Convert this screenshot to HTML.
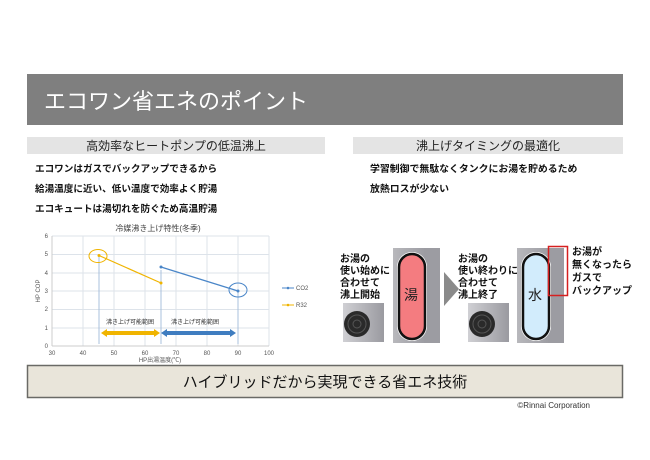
<!DOCTYPE html>
<html><head><meta charset="utf-8"><style>
body{margin:0;background:#fff;}
svg{display:block;font-family:"Liberation Sans","Noto Sans CJK JP",sans-serif;}
</style></head><body>
<svg width="650" height="460" viewBox="0 0 650 460" xmlns="http://www.w3.org/2000/svg">
<defs>
<linearGradient id="tk" x1="0" x2="1"><stop offset="0" stop-color="#b8b8bc"/><stop offset="0.5" stop-color="#a4a4aa"/><stop offset="1" stop-color="#8e8e94"/></linearGradient>
<linearGradient id="od" x1="0" x2="1"><stop offset="0" stop-color="#d0d0d4"/><stop offset="1" stop-color="#9a9aa0"/></linearGradient>
</defs>
<rect x="27" y="74" width="596" height="51" fill="#7f7f7f"/>
<text x="44" y="109" font-size="22" fill="#fff">エコワン省エネのポイント</text>

<rect x="27" y="137" width="298" height="17" fill="#e4e4e4"/>
<text x="176" y="150" font-size="12" fill="#222" text-anchor="middle">高効率なヒートポンプの低温沸上</text>
<rect x="353" y="137" width="270" height="17" fill="#e4e4e4"/>
<text x="488" y="150" font-size="12" fill="#222" text-anchor="middle">沸上げタイミングの最適化</text>

<g font-size="9.6" font-weight="bold" fill="#111">
<text x="35" y="172">エコワンはガスでバックアップできるから</text>
<text x="35" y="192">給湯温度に近い、低い温度で効率よく貯湯</text>
<text x="35" y="212">エコキュートは湯切れを防ぐため高温貯湯</text>
<text x="370" y="172" font-size="9.9">学習制御で無駄なくタンクにお湯を貯めるため</text>
<text x="370" y="192" font-size="9.9">放熱ロスが少ない</text>
</g>

<!-- chart -->
<text x="158" y="231" font-size="8" fill="#444" text-anchor="middle">冷媒沸き上げ特性(冬季)</text>
<g stroke="#dde3ea" stroke-width="1">
<line x1="52" y1="236" x2="269" y2="236"/><line x1="52" y1="254.5" x2="269" y2="254.5"/><line x1="52" y1="273" x2="269" y2="273"/><line x1="52" y1="291" x2="269" y2="291"/><line x1="52" y1="309.5" x2="269" y2="309.5"/><line x1="52" y1="328" x2="269" y2="328"/>
<line x1="83" y1="236" x2="83" y2="346"/><line x1="114" y1="236" x2="114" y2="346"/><line x1="145" y1="236" x2="145" y2="346"/><line x1="176" y1="236" x2="176" y2="346"/><line x1="207" y1="236" x2="207" y2="346"/><line x1="238" y1="236" x2="238" y2="346"/><line x1="269" y1="236" x2="269" y2="346"/>
</g>
<line x1="52" y1="236" x2="52" y2="346" stroke="#ccc"/>
<line x1="52" y1="346" x2="269" y2="346" stroke="#ccc"/>
<g font-size="6" fill="#555" text-anchor="end">
<text x="48" y="348">0</text><text x="48" y="330">1</text><text x="48" y="311">2</text><text x="48" y="293">3</text><text x="48" y="275">4</text><text x="48" y="256">5</text><text x="48" y="238">6</text>
</g>
<g font-size="6" fill="#555" text-anchor="middle">
<text x="52" y="355">30</text><text x="83" y="355">40</text><text x="114" y="355">50</text><text x="145" y="355">60</text><text x="176" y="355">70</text><text x="207" y="355">80</text><text x="238" y="355">90</text><text x="269" y="355">100</text>
</g>
<text x="160" y="362" font-size="6" fill="#555" text-anchor="middle">HP出湯温度(℃)</text>
<text x="40" y="291" font-size="6" fill="#555" text-anchor="middle" transform="rotate(-90 40 291)">HP COP</text>
<g stroke="#a8c0dc" stroke-width="1"><line x1="99" y1="255" x2="99" y2="344"/><line x1="161" y1="270" x2="161" y2="344"/><line x1="238" y1="291" x2="238" y2="344"/></g>
<line x1="99" y1="255.5" x2="161" y2="283" stroke="#f0b400" stroke-width="1.2"/>
<circle cx="99" cy="255.5" r="1.5" fill="#f0b400"/><circle cx="161" cy="283" r="1.5" fill="#f0b400"/>
<ellipse cx="98" cy="256" rx="9" ry="6.5" fill="none" stroke="#f0b400"/>
<line x1="161" y1="267" x2="238" y2="291" stroke="#4a86c8" stroke-width="1.2"/>
<circle cx="161" cy="267" r="1.5" fill="#4a86c8"/><circle cx="238" cy="291" r="1.5" fill="#4a86c8"/>
<ellipse cx="238" cy="290" rx="9" ry="7" fill="none" stroke="#4a86c8"/>
<text x="130" y="324" font-size="6" fill="#333" text-anchor="middle">沸き上げ可能範囲</text>
<text x="195" y="324" font-size="6" fill="#333" text-anchor="middle">沸き上げ可能範囲</text>
<polygon points="101,333 107,329 107,331 154,331 154,329 160,333 154,337 154,335 107,335 107,337" fill="#f0b400"/>
<polygon points="161,333 167,329 167,331 230,331 230,329 236,333 230,337 230,335 167,335 167,337" fill="#3f7dc0"/>
<line x1="282" y1="288" x2="294" y2="288" stroke="#4a86c8"/><circle cx="288" cy="288" r="1.3" fill="#4a86c8"/>
<text x="296" y="290" font-size="6" fill="#555">CO2</text>
<line x1="282" y1="305" x2="294" y2="305" stroke="#f0b400"/><circle cx="288" cy="305" r="1.3" fill="#f0b400"/>
<text x="296" y="307" font-size="6" fill="#555">R32</text>

<!-- right diagram -->
<g font-size="10" font-weight="bold" fill="#111">
<text x="340" y="262">お湯の</text><text x="340" y="274">使い始めに</text><text x="340" y="286">合わせて</text><text x="340" y="298">沸上開始</text>
<text x="458" y="262">お湯の</text><text x="458" y="274">使い終わりに</text><text x="458" y="286">合わせて</text><text x="458" y="298">沸上終了</text>
<text x="572" y="255">お湯が</text><text x="572" y="268">無くなったら</text><text x="572" y="281">ガスで</text><text x="572" y="294">バックアップ</text>
</g>
<!-- outdoor units -->
<g>
<rect x="343" y="303" width="41" height="39" fill="url(#od)"/>
<circle cx="357" cy="324" r="13" fill="#2a2a2a"/><circle cx="357" cy="324" r="9" fill="none" stroke="#555"/><circle cx="357" cy="324" r="4" fill="none" stroke="#555"/>
<rect x="468" y="303" width="41" height="39" fill="url(#od)"/>
<circle cx="482" cy="324" r="13" fill="#2a2a2a"/><circle cx="482" cy="324" r="9" fill="none" stroke="#555"/><circle cx="482" cy="324" r="4" fill="none" stroke="#555"/>
</g>
<!-- tanks -->
<rect x="393" y="248" width="47" height="95" fill="url(#tk)"/>
<rect x="425" y="248" width="15" height="95" fill="#9c9ca2"/>
<rect x="397" y="252" width="30" height="89" rx="15" fill="#fff"/>
<rect x="399" y="254" width="26" height="85" rx="13" fill="#f47c80" stroke="#111" stroke-width="2.5"/>
<text x="411" y="300" font-size="14" fill="#222" text-anchor="middle">湯</text>
<polygon points="444,272 459,289 444,306" fill="#8a8a8a"/>
<rect x="517" y="248" width="47" height="95" fill="url(#tk)"/>
<rect x="549" y="248" width="15" height="95" fill="#9c9ca2"/>
<rect x="521" y="252" width="30" height="89" rx="15" fill="#fff"/>
<rect x="523" y="254" width="26" height="85" rx="13" fill="#d2ecfc" stroke="#111" stroke-width="2.5"/>
<text x="535" y="300" font-size="14" fill="#222" text-anchor="middle">水</text>
<rect x="548.5" y="246.5" width="19" height="49" fill="none" stroke="#d62020" stroke-width="1.5"/>

<!-- bottom -->
<rect x="27.5" y="365.5" width="595" height="32" fill="#e9e5da" stroke="#6a6a66" stroke-width="1.5"/>
<text x="325" y="387" font-size="15" fill="#111" text-anchor="middle">ハイブリッドだから実現できる省エネ技術</text>
<text x="590" y="408" font-size="8" fill="#333" text-anchor="end">©Rinnai Corporation</text>
</svg>
</body></html>
